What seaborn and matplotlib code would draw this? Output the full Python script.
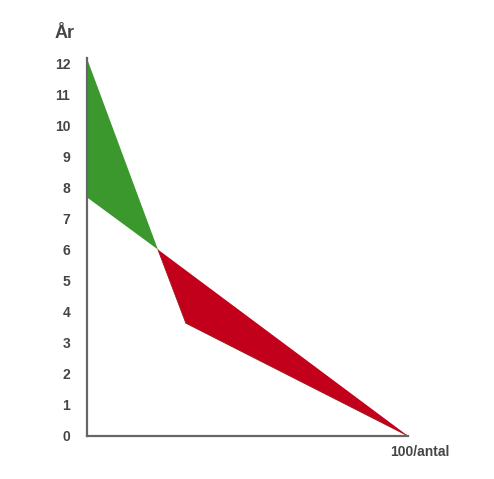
import matplotlib
matplotlib.use("Agg")
import matplotlib.pyplot as plt
import seaborn as sns

# Data
x_upper = [0.0, 2.21, 10.0]
y_upper = [12.15, 6.0, 0.0]
x_lower = [0.0, 2.21, 3.08, 10.0]
y_lower = [7.68, 6.0, 3.63, 0.0]
y_ticks = list(range(0, 13))

sns.set_style("white")
plt.rcParams["font.family"] = ["Liberation Sans", "DejaVu Sans"]

fig = plt.figure(figsize=(4.94, 4.79), dpi=100)
ax = fig.add_axes([0.176, 0.0898, 0.65, 0.811])

green = "#3a982d"
red = "#c3001b"

# green area: between the two curves, left of the crossing point
gx = x_upper[:2] + x_lower[:2][::-1]
gy = y_upper[:2] + y_lower[:2][::-1]
ax.fill(gx, gy, color=green, lw=0)

# red area: right of the crossing point
rx = x_upper[1:] + x_lower[1:][::-1]
ry = y_upper[1:] + y_lower[1:][::-1]
ax.fill(rx, ry, color=red, lw=0)

# thin darker edge on the lower red boundary
sns.lineplot(x=x_lower[1:], y=y_lower[1:], ax=ax, color="#9a1a1a", lw=0.6, sort=False)

ax.set_xlim(0, 10)
ax.set_ylim(0, 12.5)
ax.set_xticks([])
ax.set_yticks(y_ticks)
ax.set_yticklabels([str(t) for t in y_ticks], fontsize=10, fontweight="bold", color="#454545")
ax.tick_params(axis="y", length=0, pad=12)

for s in ["top", "right"]:
    ax.spines[s].set_visible(False)
for s in ["left", "bottom"]:
    ax.spines[s].set_color("#666666")
    ax.spines[s].set_linewidth(1.6)
ax.spines["left"].set_bounds(0, y_upper[0])
ax.spines["bottom"].set_bounds(0, 10)

fig.text(65 / 494, 1 - 33 / 479, "År", fontsize=13, fontweight="bold", color="#454545",
         ha="center", va="center")
fig.text(420 / 494, 1 - 452 / 479, "100/antal", fontsize=10, fontweight="bold", color="#454545",
         ha="center", va="center")

fig.savefig("out.png", dpi=100)
